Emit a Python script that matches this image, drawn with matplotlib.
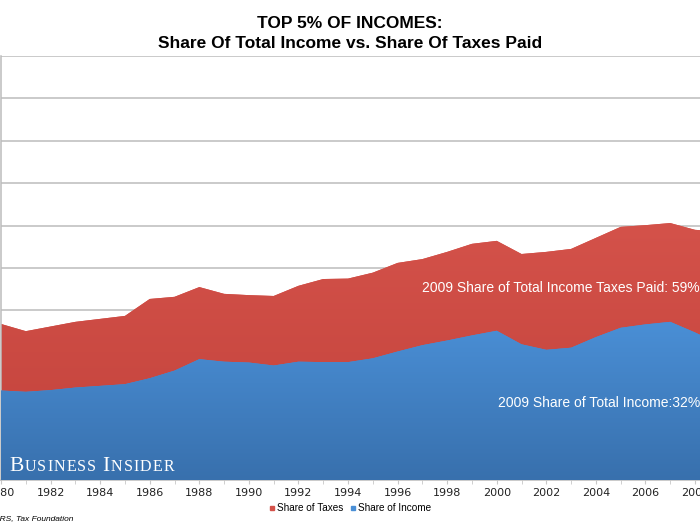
import matplotlib
matplotlib.use("Agg")
import matplotlib.pyplot as plt
import numpy as np
from matplotlib.colors import LinearSegmentedColormap
from matplotlib.lines import Line2D

years = list(range(1980, 2010))
share_taxes = [36.8, 35.1, 36.2, 37.3, 38.0, 38.7, 42.7, 43.2, 45.5, 43.9,
               43.6, 43.4, 45.8, 47.4, 47.5, 48.9, 51.2, 52.1, 53.8, 55.7,
               56.4, 53.3, 53.8, 54.5, 57.1, 59.7, 60.1, 60.6, 59.0, 58.6]
share_income = [21.1, 20.8, 21.2, 21.8, 22.2, 22.6, 24.0, 25.8, 28.5, 27.9,
                27.7, 27.0, 27.9, 27.8, 27.8, 28.7, 30.3, 31.8, 32.9, 34.1,
                35.2, 32.0, 30.7, 31.2, 33.7, 35.9, 36.7, 37.3, 34.8, 32.0]

fig = plt.figure(figsize=(7, 5.25), dpi=100)
ax = fig.add_axes([0.0015, 1 - 480 / 525, 0.9985, (480 - 56) / 525])


def gradient_fill(y, top, bottom, z):
    poly = ax.fill_between(years, 0, y, color=top, lw=0, zorder=z)
    cmap = LinearSegmentedColormap.from_list("g", [bottom, top])
    grad = np.linspace(0, 1, 256).reshape(-1, 1)
    im = ax.imshow(grad, cmap=cmap, aspect="auto", origin="lower",
                   extent=[1980, 2009, 0, max(y)], zorder=z)
    im.set_clip_path(poly.get_paths()[0], ax.transData)


gradient_fill(share_taxes, "#d4524a", "#c2423b", 2)
gradient_fill(share_income, "#4a8fd6", "#3870ad", 3)
ax.set_xlim(1980, 2008.2)
ax.set_ylim(0, 100)

ax.set_yticks(np.arange(0, 101, 10))
ax.set_yticklabels([])
ax.tick_params(axis="y", length=0)
ax.grid(axis="y", color="#bcbcbc", lw=1.1, zorder=1)
ax.set_axisbelow(True)

ax.set_xticks(range(1980, 2009, 2))
ax.set_xticks(range(1981, 2009, 2), minor=True)
ax.tick_params(axis="x", which="both", direction="out", length=3,
               color="#c8c8c8", labelsize=8, labelcolor="#222222", pad=3)
for s in ["top", "right"]:
    ax.spines[s].set_visible(False)
for s in ["left", "bottom"]:
    ax.spines[s].set_color("#bcbcbc")
    ax.spines[s].set_linewidth(1.1)

fig.text(0.5, 1 - 23 / 525, "TOP 5% OF INCOMES:", ha="center", va="center",
         fontsize=12.5, fontweight="bold", family="Liberation Sans")
fig.text(0.5, 1 - 43 / 525, "Share Of Total Income vs. Share Of Taxes Paid",
         ha="center", va="center", fontsize=12.5, fontweight="bold",
         family="Liberation Sans")

ax.text(1, 1 - (288 - 56) / 424, "2009 Share of Total Income Taxes Paid: 59%",
        transform=ax.transAxes, ha="right", va="center", color="white",
        fontsize=10, family="Liberation Sans", zorder=5)
ax.text(1, 1 - (403 - 56) / 424, "2009 Share of Total Income:32%",
        transform=ax.transAxes, ha="right", va="center", color="white",
        fontsize=10, family="Liberation Sans", zorder=5)

# Business Insider logo in small caps, letter by letter for tracking
logo_y = 1 - (471 - 56) / 424
prev = ax.text(8 / 700, logo_y, "B", transform=ax.transAxes, ha="left",
               va="baseline", color="white", fontsize=15.5,
               family="Liberation Serif", zorder=5)
for ch in "USINESS INSIDER":
    size = 15.5 if ch == "I" and prev.get_text() == " " else 11.5
    prev = ax.annotate(ch, xy=(1, logo_y), xycoords=(prev, "axes fraction"),
                       xytext=(0.8, 0), textcoords="offset points",
                       ha="left", va="baseline", color="white", fontsize=size,
                       family="Liberation Serif", zorder=5)

handles = [Line2D([], [], marker="s", ls="", color="#d4524a", markersize=3.5),
           Line2D([], [], marker="s", ls="", color="#4a8fd6", markersize=3.5)]
fig.legend(handles, ["Share of Taxes", "Share of Income"], loc="center",
           bbox_to_anchor=(0.5, 1 - 508 / 525), ncol=2, frameon=False,
           handlelength=0.6, handletextpad=0.2, borderpad=0.1,
           columnspacing=0.6, prop={"family": "Liberation Sans", "size": 7.2})

fig.text(73 / 700, 1 - 519 / 525, "Source: IRS, Tax Foundation", ha="right",
         va="center", fontsize=6, style="italic", family="Liberation Sans")

fig.savefig("out.png", dpi=100)
